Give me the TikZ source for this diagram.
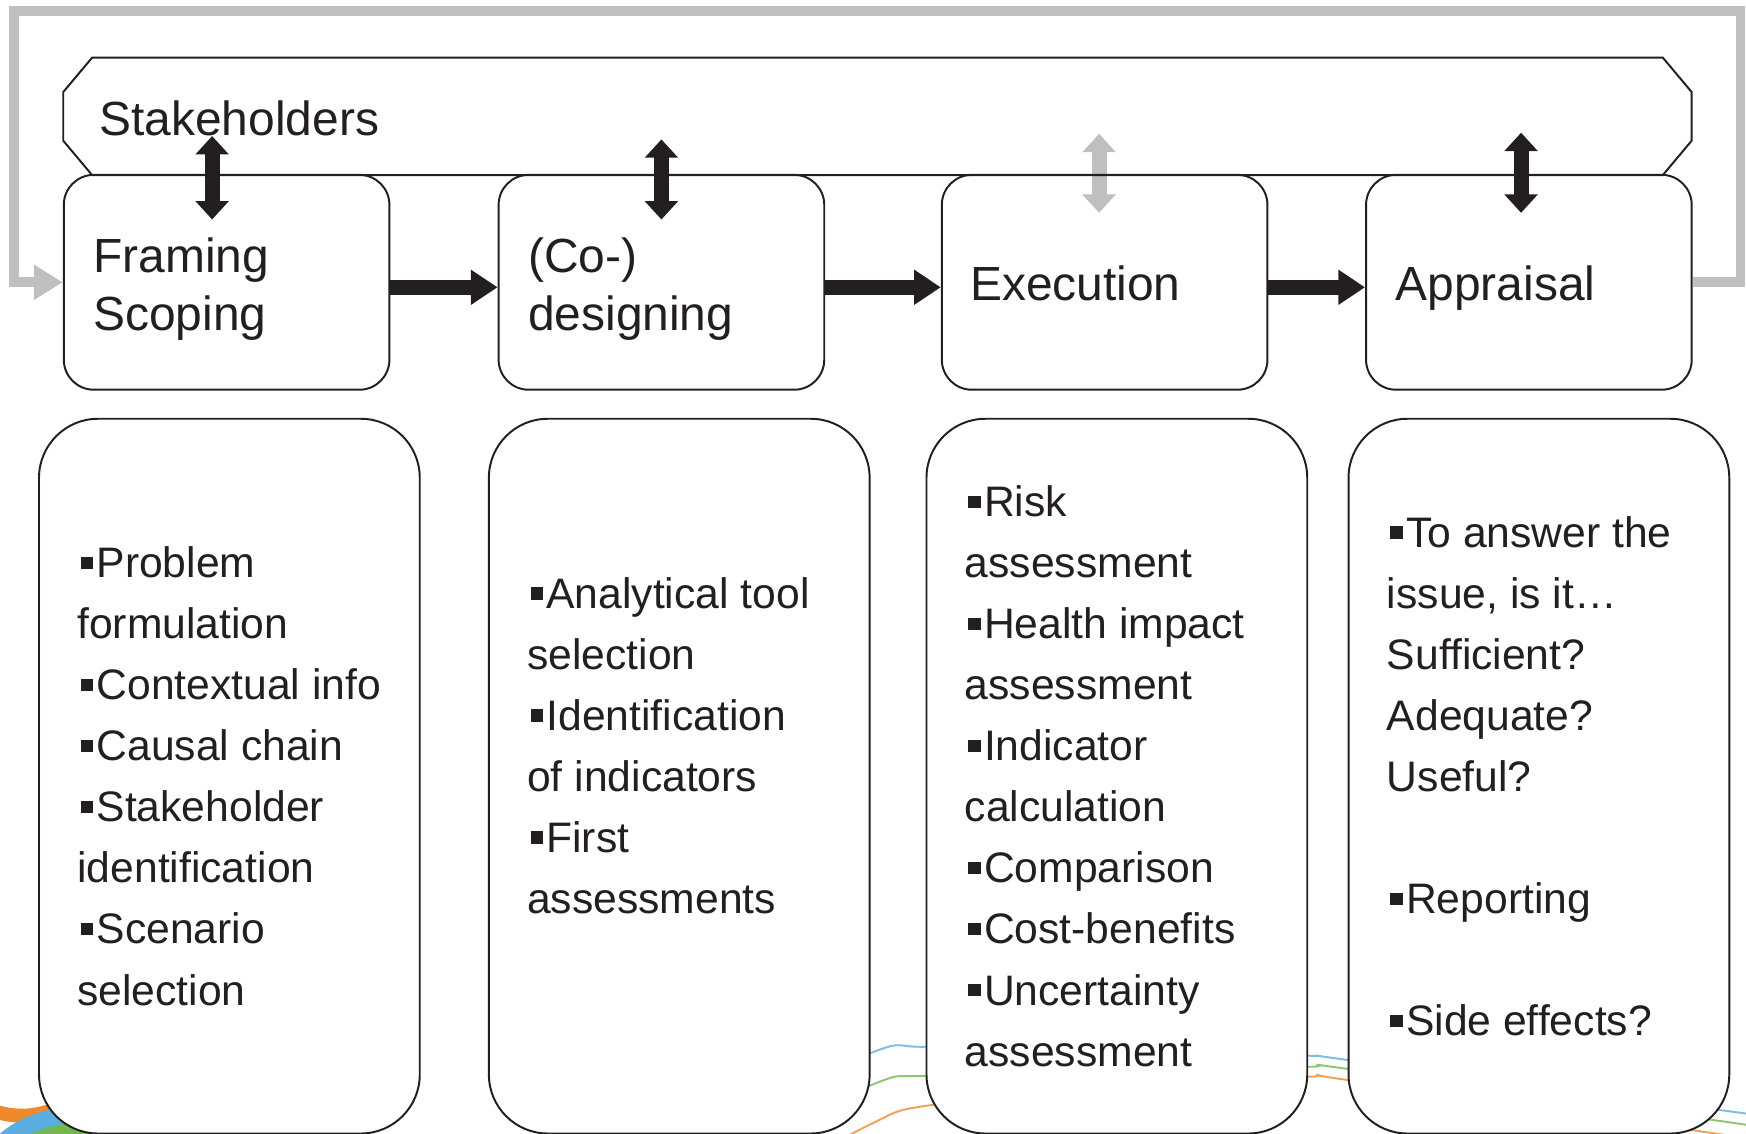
\documentclass[tikz,border=0pt]{standalone}
\usepackage{fontspec}
\setmainfont{Liberation Sans}
\definecolor{ggink}{HTML}{231F20}
\definecolor{gggrey}{HTML}{BFBFBF}
\definecolor{ggblue}{HTML}{5AAEE0}
\definecolor{gggreen}{HTML}{72B84A}
\definecolor{ggorange}{HTML}{F0892A}
\usetikzlibrary{arrows.meta,backgrounds}
\newcommand\sqbul{\hspace{0.08em}\rule[0.2em]{0.29em}{0.29em}\hspace{0.08em}}

\begin{document}
\begin{tikzpicture}[x=0.02cm,y=-0.02cm,
    stage/.style={draw=ggink,line width=1pt,rounded corners=0.54cm,minimum width=5.85cm,minimum height=3.86cm,inner sep=0pt},
    task/.style={draw=ggink,fill=white,line width=1pt,rounded corners=1.06cm,minimum width=6.84cm,minimum height=12.84cm,inner sep=0pt},
    head/.style={inner sep=0pt,align=left,font=\fontsize{24.5}{29.5}\selectfont,text=ggink},
    items/.style={inner sep=0pt,align=left,font=\fontsize{21.8}{31.2}\selectfont,text=ggink},
    flow/.style={-{Triangle[length=0.48cm,width=0.6cm]},line width=0.28cm,ggink},
    link/.style={{Triangle[length=0.33cm,width=0.58cm]}-{Triangle[length=0.33cm,width=0.58cm]},line width=0.27cm,ggink},
    back/.style={-{Triangle[length=0.52cm,width=0.6cm]},line width=0.175cm,gggrey},
    swoosh/.style={line width=0.035cm,opacity=0.8}]
  \useasboundingbox (0,0) rectangle (1568,1018);
  \draw[swoosh,ggblue] plot[smooth] coordinates {(600,1030) (781,946) (832,940) (1000,940) (1174,948) (1211,952) (1568,1000)};
  \draw[swoosh,gggreen] plot[smooth] coordinates {(600,1060) (781,975) (832,966) (1000,960) (1174,958) (1211,960) (1568,1010)};
  \draw[swoosh,ggorange] plot[smooth] coordinates {(650,1080) (781,1010) (832,993) (1000,977) (1174,967) (1211,970) (1568,1022)};
  \draw[ggorange,line width=0.25cm] (-5,998) .. controls (15,1004) and (30,1003) .. (50,996);
  \draw[ggblue,line width=0.35cm] (0,1030) .. controls (15,1015) and (30,1008) .. (60,1002);
  \draw[gggreen,line width=0.25cm] (20,1030) .. controls (35,1020) and (50,1016) .. (80,1013);

  \node[minimum width=29.24cm,minimum height=2.1cm,inner sep=0pt] (stk) at (788,104.5) {};
  \draw[ggink,line width=1pt] ([shift={(26,0)}]stk.north west) -- ([shift={(-26,0)}]stk.north east)
    -- ([shift={(0,31)}]stk.north east) -- ([shift={(0,-31)}]stk.south east)
    -- ([shift={(-26,0)}]stk.south east) -- ([shift={(26,0)}]stk.south west)
    -- ([shift={(0,-31)}]stk.south west) -- ([shift={(0,31)}]stk.north west) -- cycle;
  \node[head,anchor=west] (stkt) at ([shift={(32,2)}]stk.west) {Stakeholders};

  \node[stage] (fr) at (203.5,253.5) {};
  \node[stage] (de) at (594,253.5) {};
  \node[stage] (ex) at (992,253.5) {};
  \node[stage] (ap) at (1373,253.5) {};
  \node[head,anchor=west] (frt) at ([shift={(27,6)}]fr.west) {Framing\\Scoping};
  \node[head,anchor=west] (det) at ([shift={(27,6)}]de.west) {(Co-)\\designing};
  \node[head,anchor=west] (ext) at ([shift={(26,1)}]ex.west) {Execution};
  \node[head,anchor=west] (apt) at ([shift={(27,5)}]ap.west) {Appraisal};

  \draw[flow] ([shift={(0,4.5)}]fr.east) -- ([shift={(0,4.5)}]de.west);
  \draw[flow] ([shift={(0,4.5)}]de.east) -- ([shift={(0,4.5)}]ex.west);
  \draw[flow] ([shift={(0,4.5)}]ex.east) -- ([shift={(0,4.5)}]ap.west);
  \draw[link] ([shift={(-13,-34)}]fr.north) -- ([shift={(-13,41)}]fr.north);
  \draw[link] ([shift={(0,-31)}]de.north) -- ([shift={(0,41)}]de.north);
  \begin{scope}[on background layer]
    \draw[link,gggrey] ([shift={(-5,-36)}]ex.north) -- ([shift={(-5,35)}]ex.north);
  \end{scope}
  \draw[link] ([shift={(-7,-37)}]ap.north) -- ([shift={(-7,35)}]ap.north);
  \draw[back] (ap.east) -- ++(43,0) |- (12.5,10) |- (fr.west);

  \node[task] (frl) at (206,697) {};
  \node[task] (del) at (610,697) {};
  \node[task] (exl) at (1003,697) {};
  \node[task] (apl) at (1382,697) {};
  \node[items,anchor=west] (frlt) at ([shift={(35,0)}]frl.west)
    {\sqbul Problem\\formulation\\\sqbul Contextual info\\\sqbul Causal chain\\\sqbul Stakeholder\\identification\\\sqbul Scenario\\selection};
  \node[items,anchor=west] (delt) at ([shift={(35,-27.5)}]del.west)
    {\sqbul Analytical tool\\selection\\\sqbul Identification\\of indicators\\\sqbul First\\assessments};
  \node[items,anchor=west] (exlt) at ([shift={(35,0)}]exl.west)
    {\sqbul Risk\\assessment\\\sqbul Health impact\\assessment\\\sqbul Indicator\\calculation\\\sqbul Comparison\\\sqbul Cost-benefits\\\sqbul Uncertainty\\assessment};
  \node[items,anchor=west] (aplt) at ([shift={(35,0)}]apl.west)
    {\sqbul To answer the\\issue, is it…\\Sufficient?\\Adequate?\\Useful?\\~\\\sqbul Reporting\\~\\\sqbul Side effects?};
\end{tikzpicture}
\end{document}
